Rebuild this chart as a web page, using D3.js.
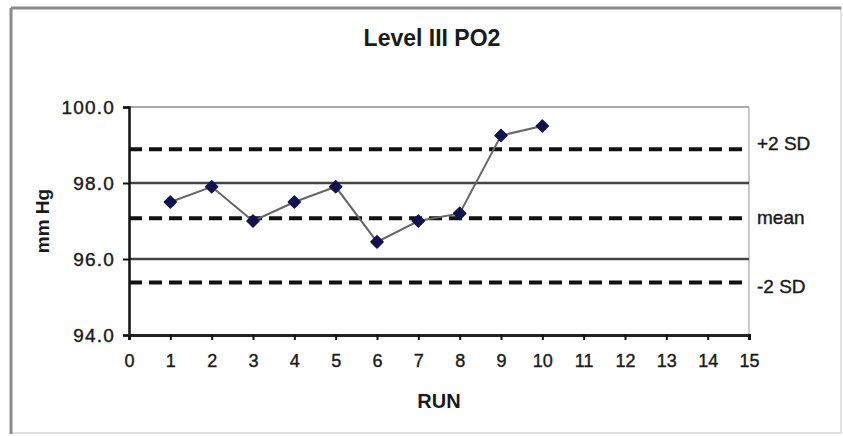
<!DOCTYPE html>
<html>
<head>
<meta charset="utf-8">
<script src="https://cdn.jsdelivr.net/npm/d3@7"></script>
<style>
  html, body { margin: 0; padding: 0; background: #fff; }
  svg { display: block; }
  text { font-family: "Liberation Sans", Arial, sans-serif; fill: #1a1a1a; }
</style>
</head>
<body>
<svg id="chart" width="843" height="436"></svg>
<script>
// ---- data ----
const title = "Level III PO2";
const xLabel = "RUN";
const yLabel = "mm Hg";
const runs = [1, 2, 3, 4, 5, 6, 7, 8, 9, 10];
const po2Values = [97.5, 97.9, 97.0, 97.5, 97.9, 96.45, 97.0, 97.2, 99.25, 99.5];
const controlNames = ["+2 SD", "mean", "-2 SD"];
const controlValues = [98.89, 97.07, 95.38];
const gridValues = [96, 98];
const yTicks = [94, 96, 98, 100];
const xTicks = d3.range(0, 16);

// ---- layout ----
const svg = d3.select("#chart");
const plot = { left: 129, right: 749, top: 107, bottom: 335 };

const x = d3.scaleLinear().domain([0, 15]).range([plot.left, plot.right]);
const y = d3.scaleLinear().domain([94, 100]).range([plot.bottom, plot.top]);

// outer frame
svg.append("rect").attr("x", 11).attr("y", 8).attr("width", 830).attr("height", 425)
  .attr("fill", "#fff").attr("stroke", "#d8d8d8").attr("stroke-width", 1.5);
svg.append("line").attr("x1", 11).attr("x2", 841).attr("y1", 8).attr("y2", 8)
  .attr("stroke", "#8a8a8a").attr("stroke-width", 3);
svg.append("line").attr("x1", 11).attr("x2", 11).attr("y1", 8).attr("y2", 434)
  .attr("stroke", "#8a8a8a").attr("stroke-width", 3);

// title
svg.append("text").attr("x", 432).attr("y", 46).attr("text-anchor", "middle")
  .style("font-size", "23px").style("font-weight", "bold").text(title);

// plot border (top and right, light gray)
svg.append("line").attr("x1", x(0)).attr("x2", x(15)).attr("y1", y(100)).attr("y2", y(100))
  .attr("stroke", "#a8a8a8").attr("stroke-width", 2);
svg.append("line").attr("x1", x(15)).attr("x2", x(15)).attr("y1", y(100)).attr("y2", y(94))
  .attr("stroke", "#b8b8b8").attr("stroke-width", 1.5);

// gridlines
svg.append("g").selectAll("line").data(gridValues).join("line")
  .attr("x1", x(0)).attr("x2", x(15))
  .attr("y1", d => y(d)).attr("y2", d => y(d))
  .attr("stroke", "#444").attr("stroke-width", 2.5);

// control lines (dashed)
svg.append("g").selectAll("line").data(controlValues).join("line")
  .attr("x1", x(0)).attr("x2", x(15))
  .attr("y1", d => y(d)).attr("y2", d => y(d))
  .attr("stroke", "#111").attr("stroke-width", 4)
  .attr("stroke-dasharray", "13,7");

// control labels
const labelOffsets = [-6, -1, 4];
svg.append("g").selectAll("text").data(controlNames).join("text")
  .attr("x", x(15) + 8)
  .attr("y", (d, i) => y(controlValues[i]) + labelOffsets[i])
  .attr("dy", "0.35em")
  .style("font-size", "19px")
  .attr("stroke", "#1a1a1a").attr("stroke-width", 0.4)
  .text(d => d);

// y axis
const yAxis = d3.axisLeft(y).tickValues(yTicks).tickFormat(d3.format(".1f"))
  .tickSize(6).tickPadding(8);
const gy = svg.append("g").attr("transform", `translate(${plot.left},0)`).call(yAxis);
gy.select(".domain").attr("stroke", "#111").attr("stroke-width", 2.5);
gy.selectAll(".tick line").attr("stroke", "#111").attr("stroke-width", 2);
gy.selectAll(".tick text").style("font-size", "19px").style("letter-spacing", "1.2px")
  .style("font-family", "'Liberation Sans', Arial, sans-serif").attr("fill", "#1a1a1a")
  .attr("stroke", "#1a1a1a").attr("stroke-width", 0.4);

// x axis
const xAxis = d3.axisBottom(x).tickValues(xTicks).tickFormat(d3.format("d"))
  .tickSize(5).tickPadding(14);
const gx = svg.append("g").attr("transform", `translate(0,${plot.bottom})`).call(xAxis);
gx.select(".domain").attr("stroke", "#222").attr("stroke-width", 3);
gx.selectAll(".tick line").attr("stroke", "#111").attr("stroke-width", 2);
gx.selectAll(".tick text").style("font-size", "18px")
  .style("font-family", "'Liberation Sans', Arial, sans-serif").attr("fill", "#1a1a1a")
  .attr("stroke", "#1a1a1a").attr("stroke-width", 0.4);

// axis titles
svg.append("text").attr("x", x(7.5)).attr("y", 408).attr("text-anchor", "middle")
  .style("font-size", "20px").style("font-weight", "bold").text(xLabel);
svg.append("text").attr("transform", `translate(49,${(plot.top + plot.bottom) / 2}) rotate(-90)`)
  .attr("text-anchor", "middle")
  .style("font-size", "19px").style("font-weight", "bold").text(yLabel);

// series
const pts = runs.map((r, i) => [r, po2Values[i]]);
svg.append("path").datum(pts)
  .attr("fill", "none").attr("stroke", "#666").attr("stroke-width", 2)
  .attr("d", d3.line().x(d => x(d[0])).y(d => y(d[1])));
svg.append("g").selectAll("path").data(pts).join("path")
  .attr("transform", d => `translate(${x(d[0])},${y(d[1])}) rotate(45)`)
  .attr("d", d3.symbol().type(d3.symbolSquare).size(72))
  .attr("fill", "#12124e").attr("stroke", "#12124e").attr("stroke-width", 1.5)
  .attr("stroke-linejoin", "round");
</script>
</body>
</html>
